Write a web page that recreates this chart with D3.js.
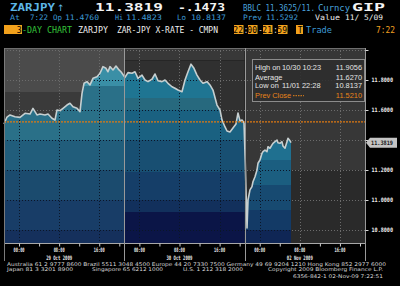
<!DOCTYPE html>
<html>
<head>
<meta charset="utf-8">
<script src="https://cdn.jsdelivr.net/npm/d3@7"></script>
<style>
html, body { margin: 0; padding: 0; background: #000; }
svg { display: block; }
</style>
</head>
<body>
<svg id="chart" width="400" height="286"></svg>
<script>
// hours since start of the 29 Oct session (each session panel = 24h)
let hours = [
	0.00, 0.60, 1.20, 2.19, 3.19, 4.19, 5.19, 5.78, 6.58, 7.18, 8.18, 8.78, 9.57, 10.17, 10.57,
	11.17, 11.77, 12.56, 13.16, 13.76, 14.56, 15.16, 15.56, 15.96, 16.55, 17.15, 17.75, 18.55,
	19.15, 19.74, 20.34, 20.74, 21.14, 21.74, 22.34, 22.94, 23.33, 23.93,
	24.13, 24.73, 25.53, 26.13, 26.73, 27.52, 28.12, 28.72, 29.52, 30.12, 30.71, 31.51, 32.11,
	32.71, 33.51, 34.10, 34.70, 35.50, 36.10, 36.70, 37.30, 37.89, 38.49, 39.09, 39.69, 40.49,
	41.08, 41.68, 42.48, 43.08, 43.48, 44.08, 44.48, 45.07, 45.67, 46.27, 46.67, 47.07, 47.47, 47.87,
	48.12, 48.47, 48.67, 49.06, 49.46, 49.66, 50.06, 50.46, 50.66, 51.06, 51.45, 51.65, 52.05,
	52.45, 52.65, 53.05, 53.45, 53.65, 54.05, 54.45, 54.64, 55.04, 55.44, 55.64, 56.04, 56.44,
	56.64, 57.04, 57.24
];
let prices = [
	11.507, 11.553, 11.567, 11.555, 11.551, 11.578, 11.573, 11.611, 11.567, 11.573, 11.567, 11.573, 11.545, 11.533, 11.600,
	11.595, 11.611, 11.633, 11.645, 11.622, 11.611, 11.589, 11.711, 11.778, 11.789, 11.767, 11.811, 11.822,
	11.845, 11.889, 11.878, 11.855, 11.889, 11.867, 11.893, 11.867, 11.855, 11.827,
	11.818, 11.849, 11.845, 11.855, 11.811, 11.833, 11.800, 11.789, 11.805, 11.840, 11.795, 11.789, 11.800,
	11.778, 11.755, 11.745, 11.733, 11.722, 11.800, 11.855, 11.9056, 11.878, 11.833, 11.800, 11.778, 11.789,
	11.767, 11.733, 11.633, 11.600, 11.533, 11.487, 11.460, 11.453, 11.480, 11.507, 11.580, 11.527, 11.533, 11.513,
	11.250, 10.8137, 11.000, 11.067, 11.089, 11.122, 11.155, 11.200, 11.245, 11.267, 11.311, 11.322, 11.333,
	11.322, 11.355, 11.345, 11.367, 11.378, 11.389, 11.400, 11.382, 11.378, 11.389, 11.360, 11.345, 11.389,
	11.411, 11.395, 11.3819
];

let dayLabels = ["29 Oct 2009", "30 Oct 2009", "02 Nov 2009"];
let timeLabels = ["00:00", "08:00", "16:00"];
let timeLabelHours = [3, 11, 19];
let priceTicks = [10.8, 11.0, 11.2, 11.4, 11.6, 11.8, 12.0];
let hiddenTickLabels = [11.4, 12.0];
let lastPrice = 11.3819;
let prevClose = 11.5210;

let legendNames = ["High on", "Average", "Low on", "Prev Close"];
let legendDates = ["10/30 10:23", "", "11/01 22:28", ""];
let legendValues = [11.9056, 11.6270, 10.8137, 11.5210];

let footerLines = [
	"Australia 61 2 9777 8600 Brazil 5511 3048 4500 Europe 44 20 7330 7500 Germany 49 69 9204 1210 Hong Kong 852 2977 6000",
	"Japan 81 3 3201 8900",
	"Singapore 65 6212 1000",
	"U.S. 1 212 318 2000",
	"Copyright 2009 Bloomberg Finance L.P.",
	"6356-842-1 02-Nov-09  7:22:51"
];

let svg = d3.select("#chart");
let width = +svg.attr("width");
let height = +svg.attr("height");
let plot = {left: 4, right: 365, top: 48, bottom: 243};
let mono = "'DejaVu Sans Mono', monospace";

let data = hours.map((h, i) => ({h: h, p: prices[i]}));

let x = d3.scaleLinear().domain([0, 72]).range([plot.left, plot.right]);
let y = d3.scaleLinear().domain([10.8, 11.8]).range([230, 80]);

svg.append("rect").attr("width", width).attr("height", height).attr("fill", "#000");

let defs = svg.append("defs");

// panels (one per trading session)
let panels = d3.range(3).map(i => ({i: i, x0: x(24 * i), x1: x(24 * (i + 1))}));

// gray background bands, by price level
let bgBands = [
	[[11.72, 12.1, "#4b4b4b"], [10.6, 11.72, "#3a3a3a"]],
	[[11.93, 12.1, "#383838"], [10.6, 11.93, "#303030"]],
	[[11.2, 12.1, "#373737"], [10.6, 11.2, "#2a2a2a"]]
];
panels.forEach(pn => {
	bgBands[pn.i].forEach(b => {
		let y0 = Math.max(plot.top, y(b[1])), y1 = Math.min(plot.bottom, y(b[0]));
		svg.append("rect")
			.attr("x", pn.x0).attr("y", y0)
			.attr("width", pn.x1 - pn.x0).attr("height", y1 - y0)
			.attr("fill", b[2]);
	});
});

// dotted grid
let gridH = priceTicks.filter(v => y(v) >= plot.top && y(v) <= plot.bottom);
let gridV = d3.merge(d3.range(3).map(d => timeLabelHours.map(h => h + 24 * d)));

let drawGrid = (g, color) => {
	g.selectAll(".gh").data(gridH).join("line")
		.attr("x1", plot.left).attr("x2", plot.right)
		.attr("y1", d => y(d) + 0.5).attr("y2", d => y(d) + 0.5)
		.attr("stroke", color).attr("stroke-dasharray", "1,2");
	g.selectAll(".gv").data(gridV).join("line")
		.attr("class", "gv")
		.attr("x1", d => Math.round(x(d)) + 0.5).attr("x2", d => Math.round(x(d)) + 0.5)
		.attr("y1", plot.top).attr("y2", plot.bottom)
		.attr("stroke", color).attr("stroke-dasharray", "1,2");
};
drawGrid(svg.append("g"), "#6c6c6c");

// stepped gradient fills per panel (pixel bands)
let fillBands = [
	[[48, 86, "#3a8fa6"], [86, 140, "#2a7088"], [140, 170, "#215d7b"], [170, 200, "#1b4b6e"], [200, 230, "#183d67"], [230, 243, "#15305c"]],
	[[48, 98, "#1f7592"], [98, 110, "#27697e"], [110, 140, "#1a6181"], [140, 172, "#184f72"], [172, 200, "#153e68"], [200, 212, "#12305c"], [212, 243, "#0b1547"]],
	[[48, 160, "#1f7090"], [160, 185, "#1b5e80"], [185, 210, "#174a71"], [210, 230, "#133a66"], [230, 243, "#0f2655"]]
];
fillBands.forEach((bands, i) => {
	let grad = defs.append("linearGradient")
		.attr("id", "fill" + i)
		.attr("gradientUnits", "userSpaceOnUse")
		.attr("x1", 0).attr("x2", 0)
		.attr("y1", plot.top).attr("y2", plot.bottom);
	let span = plot.bottom - plot.top;
	bands.forEach(b => {
		grad.append("stop").attr("offset", (b[0] - plot.top) / span).attr("stop-color", b[2]);
		grad.append("stop").attr("offset", (b[1] - plot.top) / span).attr("stop-color", b[2]);
	});
	defs.append("clipPath").attr("id", "panel" + i)
		.append("rect")
		.attr("x", panels[i].x0).attr("y", plot.top)
		.attr("width", panels[i].x1 - panels[i].x0).attr("height", plot.bottom - plot.top);
});

let area = d3.area()
	.x(d => x(d.h))
	.y0(plot.bottom)
	.y1(d => y(d.p));

let line = d3.line()
	.x(d => x(d.h))
	.y(d => y(d.p));

panels.forEach(pn => {
	svg.append("path")
		.datum(data)
		.attr("d", area)
		.attr("fill", "url(#fill" + pn.i + ")")
		.attr("clip-path", "url(#panel" + pn.i + ")");
});

// dark dotted grid on top of the fill
defs.append("clipPath").attr("id", "areaClip")
	.append("path").datum(data).attr("d", area);
drawGrid(svg.append("g").attr("clip-path", "url(#areaClip)"), "#0a1628");

// price line
svg.append("path")
	.datum(data)
	.attr("d", line)
	.attr("fill", "none")
	.attr("stroke", "#c6cfd0")
	.attr("stroke-width", 1.6)
	.attr("stroke-linejoin", "round");

// previous close
svg.append("line")
	.attr("x1", plot.left).attr("x2", plot.right)
	.attr("y1", y(prevClose)).attr("y2", y(prevClose))
	.attr("stroke", "#e07a12")
	.attr("stroke-width", 1.3)
	.attr("stroke-dasharray", "2,1");

// frame and session separators
svg.append("line").attr("x1", plot.left).attr("x2", plot.right)
	.attr("y1", plot.top + 0.5).attr("y2", plot.top + 0.5).attr("stroke", "#6e6e6e");
svg.append("line").attr("x1", plot.left).attr("x2", plot.right)
	.attr("y1", plot.bottom + 0.5).attr("y2", plot.bottom + 0.5).attr("stroke", "#a8a8a8");
svg.selectAll(".sep").data([0, 24, 48, 72]).join("line")
	.attr("x1", d => Math.round(x(d)) + 0.5).attr("x2", d => Math.round(x(d)) + 0.5)
	.attr("y1", plot.top).attr("y2", 261)
	.attr("stroke", (d, i) => i == 0 ? "#7a7a7a" : "#999");

// x axis ticks and labels
let xAxis = d3.axisBottom(x)
	.tickValues(d3.range(3, 72, 4))
	.tickSize(3)
	.tickFormat("");
let gx = svg.append("g").attr("transform", "translate(0," + (plot.bottom + 0.5) + ")").call(xAxis);
gx.select(".domain").remove();
gx.selectAll(".tick line").attr("stroke", "#cfcfcf");

let timeTicks = d3.merge(d3.range(3).map(d => timeLabelHours.map((h, j) => ({h: h + 24 * d, t: timeLabels[j]}))));
svg.selectAll(".tl").data(timeTicks).join("text")
	.attr("x", d => x(d.h) - 5.5)
	.attr("y", 251.5)
	.attr("textLength", 11)
	.attr("lengthAdjust", "spacingAndGlyphs")
	.attr("font-family", mono).attr("font-weight", "bold")
	.attr("font-size", 6).attr("fill", "#e8e8e8")
	.text(d => d.t);

svg.selectAll(".dl").data(dayLabels).join("text")
	.attr("x", (d, i) => x(24 * i + 11) - 13)
	.attr("y", 259.5)
	.attr("textLength", 26)
	.attr("lengthAdjust", "spacingAndGlyphs")
	.attr("font-family", mono).attr("font-weight", "bold")
	.attr("font-size", 6).attr("fill", "#e8e8e8")
	.text(d => d);

// y axis on the right
let showLabel = d => hiddenTickLabels.indexOf(d) < 0;
let yAxis = d3.axisRight(y)
	.tickValues(priceTicks)
	.tickSize(3)
	.tickFormat(d => showLabel(d) ? d.toFixed(4) : "");
let gy = svg.append("g").attr("transform", "translate(" + (plot.right + 0.5) + ",0)").call(yAxis);
gy.select(".domain").remove();
gy.selectAll(".tick line").attr("stroke", "#d8d8d8");
gy.selectAll(".tick text")
	.attr("x", 6)
	.attr("textLength", d => showLabel(d) ? 21.5 : null)
	.attr("lengthAdjust", "spacingAndGlyphs")
	.attr("font-family", mono).attr("font-weight", "bold")
	.attr("font-size", 6).attr("fill", "#ececec");

// last price tag
let ly = y(lastPrice);
svg.append("path")
	.attr("d", d3.line()([[366, ly], [370, ly - 5], [397, ly - 5], [397, ly + 5], [370, ly + 5]]) + "Z")
	.attr("fill", "#c4c4c4");
svg.append("text")
	.attr("x", 371).attr("y", ly + 2.3)
	.attr("textLength", 22).attr("lengthAdjust", "spacingAndGlyphs")
	.attr("font-family", mono).attr("font-weight", "bold")
	.attr("font-size", 6).attr("fill", "#1a1a1a")
	.text(lastPrice.toFixed(4));

// legend box
let lg = svg.append("g");
lg.append("rect")
	.attr("x", 252.5).attr("y", 59.5)
	.attr("width", 112).attr("height", 42)
	.attr("fill", "#2e2e2e").attr("fill-opacity", 0.88)
	.attr("stroke", "#8c8c8c");
let rowY = [70.2, 79.6, 88.3, 98];
legendNames.forEach((n, i) => {
	let c = i == 3 ? "#e8841a" : "#e4e4e4";
	lg.append("text").attr("x", 255).attr("y", rowY[i])
		.attr("font-family", "'Liberation Sans', Arial, sans-serif")
		.attr("font-size", 7.4).attr("fill", c).text(n);
	if (legendDates[i]) {
		lg.append("text").attr("x", 282).attr("y", rowY[i])
			.attr("font-family", "'Liberation Sans', Arial, sans-serif")
			.attr("font-size", 7.4).attr("fill", c).text(legendDates[i]);
	}
	lg.append("text").attr("x", 362).attr("y", rowY[i])
		.attr("text-anchor", "end")
		.attr("font-family", "'Liberation Sans', Arial, sans-serif")
		.attr("font-size", 7.4).attr("fill", c).text(legendValues[i].toFixed(4));
});
lg.append("line")
	.attr("x1", 293).attr("x2", 304)
	.attr("y1", rowY[3] - 2.3).attr("y2", rowY[3] - 2.3)
	.attr("stroke", "#e8841a").attr("stroke-dasharray", "1.5,1");

// header
let header = [
	// text, x, width, baseline, size, color, bold
	["ZARJPY", 10, 45, 11.3, 10, "#5cb6e6", true],
	["11.3819", 95, 68, 11.3, 10.5, "#f4f4f4", true],
	["-.1473", 178, 47, 11.3, 10.5, "#f4f4f4", true],
	["BBLC 11.3625/11.", 243, 72, 10.8, 8, "#4aa3dc", false],
	["Curncy", 318, 32, 10.8, 8, "#4aa3dc", false],
	["GIP", 352, 33, 11.3, 10, "#f4f4f4", true],
	["At", 10, 10, 20.3, 7.5, "#3d9ad6", false],
	["7:22", 30, 18, 20.3, 7.5, "#3d9ad6", false],
	["Op", 53, 9, 20.3, 7.5, "#3d9ad6", false],
	["11.4760", 65, 34, 20.3, 7.5, "#3d9ad6", false],
	["Hi", 115, 8, 20.3, 7.5, "#3d9ad6", false],
	["11.4823", 126, 36, 20.3, 7.5, "#3d9ad6", false],
	["Lo", 177, 9, 20.3, 7.5, "#3d9ad6", false],
	["10.8137", 191, 35, 20.3, 7.5, "#3d9ad6", false],
	["Prev", 243, 19, 20.3, 7.5, "#3d9ad6", false],
	["11.5292", 266, 32, 20.3, 7.5, "#3d9ad6", false],
	["Value", 315, 25, 20.3, 7.5, "#eeeeee", false],
	["11/ 5/09", 345, 38, 20.3, 7.5, "#eeeeee", false],
	["-DAY CHART", 22, 50, 32.5, 8, "#34c43a", false],
	["ZARJPY", 78, 30, 32.5, 8, "#eeeeee", false],
	["ZAR-JPY X-RATE - CMPN", 117, 101, 32.5, 8, "#eeeeee", false],
	[":", 244, 4, 32.5, 8, "#eeeeee", false],
	["-", 258.5, 4, 32.5, 8, "#eeeeee", false],
	[":", 273.5, 4, 32.5, 8, "#eeeeee", false],
	["Trade", 306, 26, 32.5, 8, "#3d9ad6", false],
	["7:22", 376, 19, 32.5, 8, "#f0a020", false]
];

let boxes = [[4, 18, "3"], [234, 9.5, "22"], [248, 9.5, "00"], [263, 9.5, "21"], [278, 9.5, "59"], [296, 7, "T"]];
svg.selectAll(".hb").data(boxes).join("rect")
	.attr("x", d => d[0]).attr("y", 25)
	.attr("width", d => d[1]).attr("height", 9)
	.attr("fill", "#f2a11c");
svg.selectAll(".hbt").data(boxes).join("text")
	.attr("x", d => d[0] + d[1] - 0.5)
	.attr("y", 32.5)
	.attr("text-anchor", "end")
	.attr("font-family", mono)
	.attr("font-size", 8).attr("fill", "#000")
	.text(d => d[2]);

svg.selectAll(".ht").data(header).join("text")
	.attr("x", d => d[1]).attr("y", d => d[3])
	.attr("textLength", d => d[2])
	.attr("lengthAdjust", "spacingAndGlyphs")
	.attr("font-family", mono)
	.attr("font-weight", d => d[6] ? "bold" : "normal")
	.attr("font-size", d => d[4])
	.attr("fill", d => d[5])
	.text(d => d[0]);

svg.append("text")
	.attr("x", 57).attr("y", 11)
	.attr("font-family", "'DejaVu Sans', sans-serif")
	.attr("font-size", 9).attr("fill", "#5cb6e6")
	.text("\u2191");

// footer
let footerPos = [[7, 379, 266], [7, 66, 271.3], [92, 71, 271.3], [183, 60, 271.3], [268, 115, 271.3], [293, 90, 277.6]];
svg.selectAll(".ft").data(footerLines).join("text")
	.attr("x", (d, i) => footerPos[i][0])
	.attr("y", (d, i) => footerPos[i][2])
	.attr("textLength", (d, i) => footerPos[i][1])
	.attr("lengthAdjust", "spacingAndGlyphs")
	.attr("font-family", "'DejaVu Sans', sans-serif")
	.attr("font-size", 5)
	.attr("fill", "#d6d6d6")
	.text(d => d);
</script>
</body>
</html>
